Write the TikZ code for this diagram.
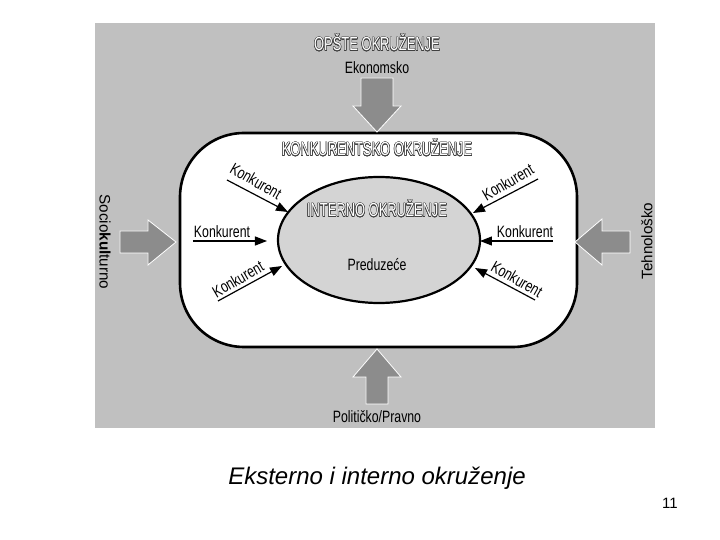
\documentclass[tikz,border=0pt]{standalone}
\usepackage{fontspec}
\setmainfont{Liberation Sans}
\newfontfamily\narrowfont[FakeStretch=0.75]{Liberation Sans}
\newfontfamily\hollowfont[FakeStretch=0.68]{Liberation Sans}
\usepackage[copies]{contour}
\contourlength{0.22pt}
\usetikzlibrary{arrows.meta,shapes.geometric}
\definecolor{envgray}{RGB}{192,192,192}
\definecolor{arrowgray}{RGB}{140,140,140}
\definecolor{firmgray}{RGB}{212,212,212}
\tikzset{every picture/.style={line width=0.75pt}}
\tikzset{
  lbl/.style={font=\narrowfont\fontsize{8.2}{9}\selectfont, inner sep=0pt},
  sidelbl/.style={font=\fontsize{7.6}{8}\selectfont, inner sep=0pt},
  hollow/.style={font=\hollowfont\fontsize{9.5}{10}\selectfont, text=white, inner sep=0pt},
  bigarrow/.style={fill=arrowgray, draw=white, line width=0.4pt},
  konk/.style={line width=0.6pt, -{Triangle[length=6pt,width=4.5pt]}},
}

\begin{document}
\begin{tikzpicture}[x=0.5pt,y=-0.5pt]
\useasboundingbox (0,0) rectangle (720,540);
% general environment
\fill[envgray] (95,23) rectangle (655,428);
\draw[line width=1.3pt, fill=white, rounded corners=32pt] (180,133) rectangle (577,347);
\node[ellipse, draw, line width=1.1pt, fill=firmgray, minimum width=101pt, minimum height=63pt, inner sep=0pt] (firm) at (379,240) {};
%
\node[hollow] (opste) at (377,43) {\contour{black!75}{OPŠTE OKRUŽENJE}};
\node[hollow] (konkur) at (377,148) {\contour{black!75}{KONKURENTSKO OKRUŽENJE}};
\node[hollow] (interno) at (377,209) {\contour{black!75}{INTERNO OKRUŽENJE}};
\node[lbl] (firmlbl) at (377,265) {Preduzeće};
%
\node[lbl] (eko) at (377,68) {Ekonomsko};
\node[lbl] (pol) at (377,417) {Političko/Pravno};
\node[sidelbl, rotate=-90] (soc) at (105,242) {Socio\textbf{kul}turno};
\node[sidelbl, rotate=90] (teh) at (647,241) {Tehnološko};
%
% big gray arrows
\draw[bigarrow] (361,78) -- (393,78) -- (393,106) -- (401,106) -- (377,132) -- (353,106) -- (361,106) -- cycle;
\draw[bigarrow] (120,231) -- (148,231) -- (148,220) -- (176,242) -- (148,265) -- (148,253) -- (120,253) -- cycle;
\draw[bigarrow] (630,231) -- (602,231) -- (602,219) -- (575,242) -- (602,265) -- (602,253) -- (630,253) -- cycle;
\draw[bigarrow] (366,404) -- (366,377) -- (353,377) -- (377,349) -- (401,377) -- (388,377) -- (388,404) -- cycle;
%
% competitors
\coordinate (k1) at (227,180); \coordinate (t1) at (288,212);
\coordinate (k2) at (193,241); \coordinate (t2) at (267,241);
\coordinate (k3) at (218,301); \coordinate (t3) at (282,266);
\coordinate (k4) at (538,179); \coordinate (t4) at (473,213);
\coordinate (k5) at (553,241); \coordinate (t5) at (480,241);
\coordinate (k6) at (535,300); \coordinate (t6) at (475,268);
\foreach \Source/\Target in {k1/t1,k2/t2,k3/t3,k4/t4,k5/t5,k6/t6}
\draw[konk] (\Source) -- (\Target);
%
\node[lbl, rotate=-30] (c1) at (256,181) {Konkurent};
\node[lbl] (c2) at (222,232) {Konkurent};
\node[lbl, rotate=30] (c3) at (238,279) {Konkurent};
\node[lbl, rotate=30] (c4) at (508,182) {Konkurent};
\node[lbl] (c5) at (525,232) {Konkurent};
\node[lbl, rotate=-30] (c6) at (517,279) {Konkurent};
%
\node[font=\itshape\fontsize{12}{14}\selectfont, inner sep=0pt] (caption) at (377,478) {Eksterno i interno okruženje};
\node[font=\fontsize{7.5}{8}\selectfont, inner sep=0pt] (page) at (670,503) {11};
\end{tikzpicture}
\end{document}
